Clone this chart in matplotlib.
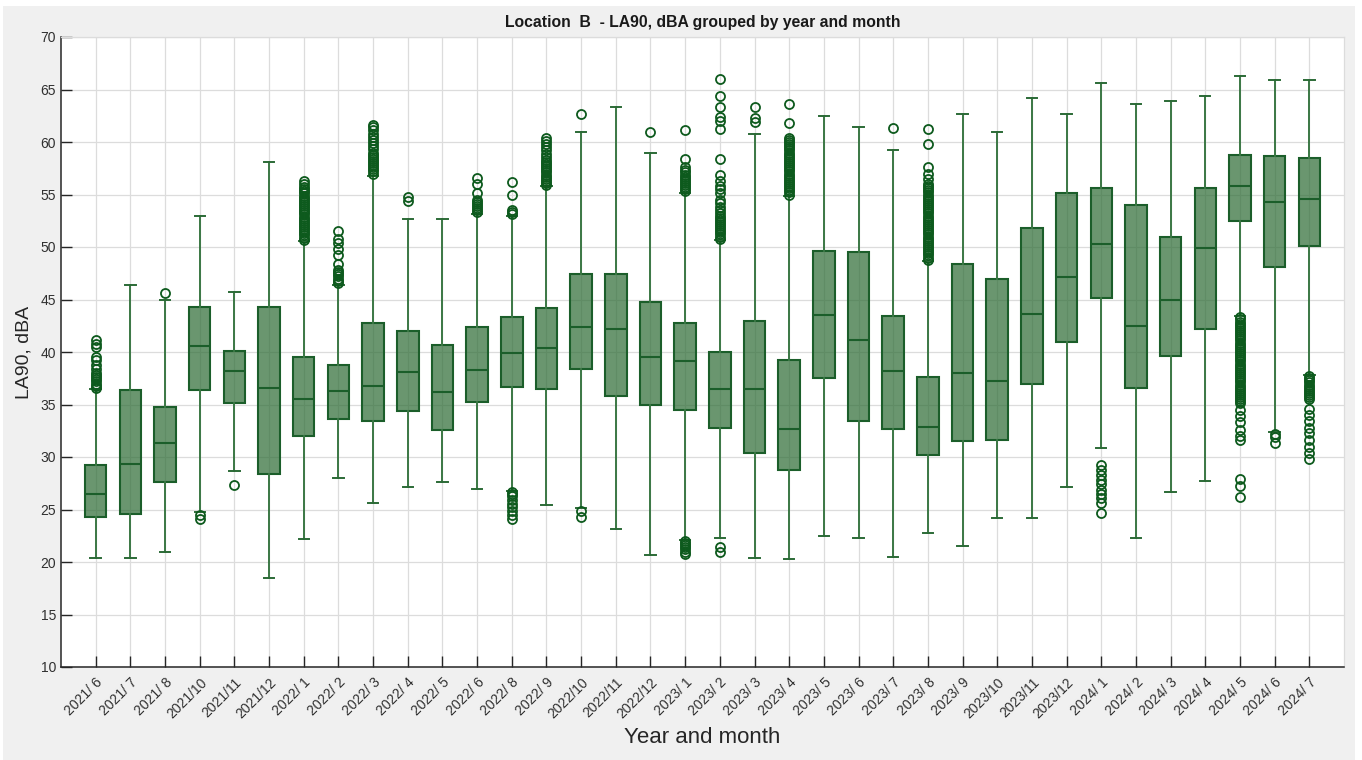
import matplotlib
matplotlib.use("Agg")
import matplotlib.pyplot as plt
from matplotlib.patches import Rectangle

plt.rcParams['font.family'] = ['Liberation Sans', 'DejaVu Sans']

labels = ["2021/ 6", "2021/ 7", "2021/ 8", "2021/10", "2021/11", "2021/12",
          "2022/ 1", "2022/ 2", "2022/ 3", "2022/ 4", "2022/ 5", "2022/ 6",
          "2022/ 8", "2022/ 9", "2022/10", "2022/11", "2022/12",
          "2023/ 1", "2023/ 2", "2023/ 3", "2023/ 4", "2023/ 5", "2023/ 6",
          "2023/ 7", "2023/ 8", "2023/ 9", "2023/10", "2023/11", "2023/12",
          "2024/ 1", "2024/ 2", "2024/ 3", "2024/ 4", "2024/ 5", "2024/ 6",
          "2024/ 7"]

q1 = [24.3, 24.6, 27.6, 36.4, 35.1, 28.4, 32.0, 33.6, 33.4, 34.4, 32.6, 35.2,
      36.7, 36.5, 38.4, 35.8, 35.0, 34.5, 32.8, 30.4, 28.8, 37.5, 33.4, 32.7,
      30.2, 31.5, 31.6, 37.0, 41.0, 45.1, 36.6, 39.6, 42.2, 52.5, 48.1, 50.1]
median = [26.5, 29.3, 31.3, 40.6, 38.2, 36.6, 35.5, 36.3, 36.8, 38.1, 36.2, 38.3,
          39.9, 40.4, 42.4, 42.2, 39.5, 39.1, 36.5, 36.5, 32.7, 43.5, 41.1, 38.2,
          32.9, 38.0, 37.2, 43.6, 47.1, 50.3, 42.5, 45.0, 49.9, 55.8, 54.3, 54.6]
q3 = [29.2, 36.4, 34.8, 44.3, 40.1, 44.3, 39.5, 38.8, 42.8, 42.0, 40.7, 42.4,
      43.3, 44.2, 47.4, 47.4, 44.8, 42.8, 40.0, 43.0, 39.2, 49.6, 49.5, 43.4,
      37.6, 48.4, 47.0, 51.8, 55.1, 55.6, 54.0, 51.0, 55.6, 58.8, 58.7, 58.5]
whisker_low = [20.4, 20.4, 21.0, 24.8, 28.7, 18.5, 22.2, 28.0, 25.6, 27.1, 27.6, 27.0,
               26.8, 25.4, 25.1, 23.1, 20.7, 22.1, 22.3, 20.4, 20.3, 22.5, 22.3, 20.5,
               22.8, 21.5, 24.2, 24.2, 27.1, 30.9, 22.3, 26.7, 27.7, 43.4, 32.4, 37.8]
whisker_high = [36.5, 46.4, 45.0, 53.0, 45.7, 58.1, 50.6, 46.4, 56.8, 52.7, 52.7, 53.1,
                53.0, 55.8, 61.0, 63.3, 59.0, 55.1, 50.7, 60.8, 54.9, 62.5, 61.4, 59.2,
                48.7, 62.7, 61.0, 64.2, 62.7, 65.6, 63.6, 63.9, 64.4, 66.3, 65.9, 65.9]

outliers = [
    [36.6, 36.8, 37.0, 37.2, 37.4, 37.6, 37.8, 38.0, 38.4, 38.8, 39.2, 39.5,
     40.5, 40.8, 41.1],
    [],
    [45.6],
    [24.5, 24.1],
    [27.3],
    [],
    [50.7, 50.9, 51.1, 51.3, 51.5, 51.7, 51.9, 52.1, 52.3, 52.5, 52.7, 52.9,
     53.1, 53.3, 53.5, 53.7, 53.9, 54.1, 54.3, 54.5, 54.7, 54.9, 55.1, 55.3,
     55.5, 55.7, 56.0, 56.3],
    [46.6, 46.8, 47.0, 47.2, 47.4, 47.6, 47.8, 48.4, 49.2, 49.8, 50.4, 50.8, 51.5],
    [57.0, 57.2, 57.4, 57.6, 57.8, 58.0, 58.2, 58.4, 58.6, 58.8, 59.0, 59.3,
     59.6, 59.9, 60.2, 60.5, 60.8, 61.1, 61.4, 61.6],
    [54.4, 54.8],
    [],
    [53.3, 53.5, 53.7, 53.9, 54.1, 54.3, 54.5, 55.1, 56.0, 56.6],
    [53.1, 53.3, 53.5, 55.0, 56.2, 26.7, 26.5, 26.3, 25.9, 25.5, 25.2, 24.9,
     24.5, 24.1],
    [55.9, 56.1, 56.3, 56.5, 56.7, 56.9, 57.1, 57.3, 57.5, 57.7, 57.9, 58.1,
     58.3, 58.6, 58.9, 59.2, 59.5, 59.8, 60.1, 60.4],
    [24.9, 24.3, 62.7],
    [],
    [61.0],
    [22.0, 21.8, 21.6, 21.4, 21.2, 21.0, 20.8, 55.3, 55.5, 55.7, 55.9, 56.1,
     56.3, 56.5, 56.7, 56.9, 57.1, 57.3, 57.6, 58.4, 61.1],
    [21.4, 21.0, 50.8, 51.0, 51.2, 51.4, 51.6, 51.8, 52.0, 52.2, 52.4, 52.6,
     52.8, 53.0, 53.2, 53.5, 53.8, 54.2, 54.5, 55.1, 55.5, 55.8, 56.3, 56.9,
     58.4, 61.2, 62.0, 62.4, 63.3, 64.4, 66.0],
    [61.9, 62.3, 63.3],
    [55.0, 55.2, 55.4, 55.6, 55.8, 56.0, 56.2, 56.4, 56.6, 56.8, 57.0, 57.2,
     57.4, 57.6, 57.8, 58.0, 58.2, 58.4, 58.6, 58.8, 59.0, 59.2, 59.4, 59.6,
     59.8, 60.0, 60.2, 60.4, 61.8, 63.6],
    [],
    [],
    [61.3],
    [48.8, 49.0, 49.2, 49.4, 49.6, 49.8, 50.0, 50.2, 50.4, 50.6, 50.8, 51.0,
     51.2, 51.4, 51.6, 51.8, 52.0, 52.2, 52.4, 52.6, 52.8, 53.0, 53.2, 53.4,
     53.6, 53.8, 54.0, 54.2, 54.4, 54.6, 54.8, 55.0, 55.2, 55.4, 55.6, 55.8,
     56.0, 56.5, 57.0, 57.6, 59.8, 61.2],
    [],
    [],
    [],
    [],
    [29.2, 28.8, 28.3, 27.8, 27.4, 26.9, 26.5, 26.1, 25.6, 24.7],
    [],
    [],
    [],
    [35.1, 35.3, 35.5, 35.7, 35.9, 36.1, 36.3, 36.5, 36.7, 36.9, 37.1, 37.3,
     37.5, 37.7, 37.9, 38.1, 38.3, 38.5, 38.7, 38.9, 39.1, 39.3, 39.5, 39.7,
     39.9, 40.1, 40.3, 40.5, 40.7, 40.9, 41.1, 41.3, 41.5, 41.7, 41.9, 42.1,
     42.3, 42.5, 42.7, 42.9, 43.1, 43.3, 34.5, 33.9, 33.3, 32.6, 32.0, 31.6,
     27.9, 27.2, 26.2],
    [32.2, 31.9, 31.3],
    [35.5, 35.7, 35.9, 36.1, 36.3, 36.5, 36.7, 36.9, 37.1, 37.3, 37.5, 37.7,
     34.6, 34.0, 33.4, 32.8, 32.3, 31.6, 31.0, 30.4, 29.8],
]

stats = []
for i, lab in enumerate(labels):
    stats.append(dict(label=lab, q1=q1[i], med=median[i], q3=q3[i],
                      whislo=whisker_low[i], whishi=whisker_high[i],
                      fliers=outliers[i]))

dark = '#1b5e2a'
fig = plt.figure(figsize=(13.62, 7.6), dpi=100, facecolor='white')
fig.patches.append(Rectangle((3 / 1362, 0), 1352 / 1362, 754 / 760,
                             transform=fig.transFigure, facecolor='#f0f0f0',
                             edgecolor='none', zorder=-10))
ax = fig.add_axes([61 / 1362, 1 - 667 / 760, (1344 - 61) / 1362, (667 - 37) / 760])
ax.set_facecolor('white')
ax.set_axisbelow(True)

positions = list(range(1, len(labels) + 1))
ax.bxp(stats, positions=positions, widths=0.62, capwidths=0.3,
       patch_artist=True, showfliers=True,
       boxprops=dict(facecolor=(0.19, 0.43, 0.22, 0.72), edgecolor=dark,
                     linewidth=1.5),
       medianprops=dict(color=dark, linewidth=1.5),
       whiskerprops=dict(color='#3a7744', linewidth=1.4),
       capprops=dict(color='#2b6a36', linewidth=1.4),
       flierprops=dict(marker='o', markerfacecolor='none',
                       markeredgecolor='#0d5a1d', markersize=6.5,
                       markeredgewidth=1.3))

ax.set_xlim(0, len(labels) + 1)
ax.set_ylim(10, 70)
ax.set_yticks(range(10, 71, 5))
ax.set_xticks(positions)
ax.set_xticklabels(labels, rotation=45, ha='right', rotation_mode='anchor',
                   fontsize=10, color='#303030')
ax.tick_params(axis='y', labelsize=10, labelcolor='#303030')
ax.tick_params(direction='in', length=8, width=1, color='#262626')
ax.tick_params(axis='x', pad=6)
ax.grid(True, color='#dcdcdc', linewidth=0.9)

for side in ('left', 'bottom'):
    ax.spines[side].set_color('#262626')
    ax.spines[side].set_linewidth(1.1)
for side in ('top', 'right'):
    ax.spines[side].set_color('#dcdcdc')
    ax.spines[side].set_linewidth(0.9)

ax.set_title('Location  B  - LA90, dBA grouped by year and month',
             fontsize=11.3, fontweight='bold', color='#1a1a1a', pad=7)
ax.set_ylabel('LA90, dBA', fontsize=14, color='#262626', labelpad=6)
ax.set_xlabel('Year and month', fontsize=16, color='#262626', labelpad=4)

fig.savefig('out.png', dpi=100, facecolor=fig.get_facecolor())
